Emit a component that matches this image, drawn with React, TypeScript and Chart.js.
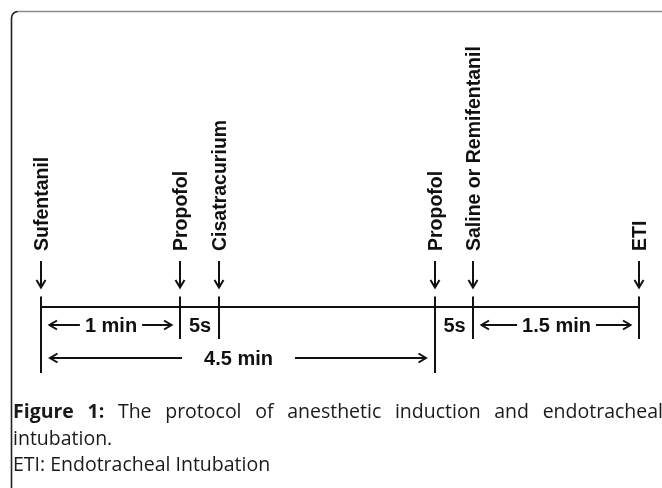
import React, { useEffect, useRef } from 'react';
import { Chart, registerables } from 'chart.js';

Chart.register(...registerables);

// Events along the (schematic, not-to-scale) induction timeline
const eventLabels = ['Sufentanil', 'Propofol', 'Cisatracurium', 'Propofol', 'Saline or Remifentanil', 'ETI'];
const eventPositions = [0, 139, 178, 394, 432, 598];
const eventMarker = ['long', 'short', 'short', 'long', 'short', 'short'];

// Intervals annotated below the timeline
const intervalLabels = ['1 min', '5s', '4.5 min', '5s', '1.5 min'];
const intervalStart = [0, 139, 0, 394, 432];
const intervalEnd = [139, 178, 394, 432, 598];
const intervalRow = [1, 1, 2, 1, 1];
const intervalArrows = [true, false, true, false, true];

// Caption
const captionBold = 'Figure 1:';
const captionLine1 = 'The protocol of anesthetic induction and endotracheal';
const captionLine2 = 'intubation.';
const captionLine3 = 'ETI: Endotracheal Intubation';

// vertical layout levels (units above the timeline)
const LV = {
  tickTop: 10.5,
  shortBottom: -32,
  longBottom: -66,
  arrowTop: 46,
  arrowBottom: 19.5,
  labelStart: 56,
  row1Line: -18,
  row1Base: -24.5,
  row2Line: -51,
  row2Base: -58,
  cap1: -111,
  cap2: -138,
  cap3: -164,
};

const INK = '#111111';
const LABEL_FONT = 'bold 19.5px "Liberation Sans", Arial, sans-serif';
const INTERVAL_FONT = 'bold 20px "Liberation Sans", Arial, sans-serif';

function arrow(ctx: CanvasRenderingContext2D, x1: number, y1: number, x2: number, y2: number) {
  const ang = Math.atan2(y2 - y1, x2 - x1);
  const L = 7.5;
  const W = 4.5;
  ctx.beginPath();
  ctx.moveTo(x1, y1);
  ctx.lineTo(x2, y2);
  ctx.stroke();
  const bx = x2 - L * Math.cos(ang);
  const by = y2 - L * Math.sin(ang);
  const nx = -Math.sin(ang) * W;
  const ny = Math.cos(ang) * W;
  ctx.beginPath();
  ctx.moveTo(bx + nx, by + ny);
  ctx.lineTo(x2, y2);
  ctx.lineTo(bx - nx, by - ny);
  ctx.stroke();
}

const diagramPlugin = {
  id: 'diagram',
  beforeDraw(chart: any) {
    const ctx: CanvasRenderingContext2D = chart.ctx;
    ctx.save();
    ctx.fillStyle = '#ffffff';
    ctx.fillRect(0, 0, chart.width, chart.height);
    // frame
    ctx.lineWidth = 1.6;
    ctx.strokeStyle = '#222222';
    ctx.beginPath();
    ctx.moveTo(11.5, chart.height + 5);
    ctx.lineTo(11.5, 18);
    ctx.arcTo(11.5, 11.5, 18, 11.5, 6.5);
    ctx.stroke();
    ctx.strokeStyle = '#8c8c8c';
    ctx.beginPath();
    ctx.moveTo(17.5, 11.5);
    ctx.lineTo(chart.width + 5, 11.5);
    ctx.stroke();
    ctx.restore();
  },
  afterDatasetsDraw(chart: any) {
    const ctx: CanvasRenderingContext2D = chart.ctx;
    const xs = chart.scales.x;
    const ys = chart.scales.y;
    const X = (v: number) => xs.getPixelForValue(v);
    const Y = (v: number) => ys.getPixelForValue(v);
    ctx.save();
    ctx.strokeStyle = INK;
    ctx.fillStyle = INK;
    ctx.lineWidth = 2;
    ctx.lineCap = 'butt';
    ctx.lineJoin = 'miter';

    // down arrows + rotated labels
    eventPositions.forEach((p, i) => {
      const x = Math.round(X(p));
      arrow(ctx, x, Y(LV.arrowTop), x, Y(LV.arrowBottom));
      ctx.save();
      ctx.translate(x + 6.5, Y(LV.labelStart));
      ctx.rotate(-Math.PI / 2);
      ctx.font = LABEL_FONT;
      ctx.textAlign = 'left';
      ctx.textBaseline = 'alphabetic';
      ctx.fillText(eventLabels[i], 0, 0);
      ctx.restore();
    });

    // interval labels
    ctx.font = INTERVAL_FONT;
    ctx.textAlign = 'center';
    ctx.textBaseline = 'alphabetic';
    intervalLabels.forEach((lab, i) => {
      const a = X(intervalStart[i]);
      const b = X(intervalEnd[i]);
      const c = (a + b) / 2 + 0.5;
      const row = intervalRow[i];
      const base = Y(row === 1 ? LV.row1Base : LV.row2Base);
      const lineY = Y(row === 1 ? LV.row1Line : LV.row2Line);
      ctx.fillText(lab, c, base);
      if (intervalArrows[i]) {
        const w = ctx.measureText(lab).width;
        const gap = row === 1 ? 5 : 22;
        const margin = row === 1 ? 8.5 : 9;
        arrow(ctx, c - w / 2 - gap, lineY, a + margin, lineY);
        arrow(ctx, c + w / 2 + gap, lineY, b - margin, lineY);
      }
    });

    // caption
    const capFont = '19.5px "Open Sans", sans-serif';
    const capBold = 'bold 19.5px "Open Sans", sans-serif';
    ctx.fillStyle = '#1a1a1a';
    ctx.textAlign = 'left';
    const left = 13;
    const right = 663;
    const words: { t: string; f: string }[] = [];
    captionBold.split(' ').forEach((t) => words.push({ t, f: capBold }));
    captionLine1.split(' ').forEach((t) => words.push({ t, f: capFont }));
    let total = 0;
    words.forEach((w) => {
      ctx.font = w.f;
      total += ctx.measureText(w.t).width;
    });
    const sp = (right - left - total) / (words.length - 1);
    let cx = left;
    const y1 = Y(LV.cap1);
    words.forEach((w) => {
      ctx.font = w.f;
      ctx.fillText(w.t, cx, y1);
      cx += ctx.measureText(w.t).width + sp;
    });
    ctx.font = capFont;
    ctx.fillText(captionLine2, left, Y(LV.cap2));
    ctx.fillText(captionLine3, left, Y(LV.cap3));
    ctx.restore();
  },
};

export default function App() {
  const ref = useRef<HTMLCanvasElement | null>(null);
  useEffect(() => {
    if (!ref.current) return;
    const lineStyle = {
      borderColor: INK,
      borderWidth: 2,
      pointRadius: 0,
      showLine: true,
      fill: false,
      tension: 0,
      borderCapStyle: 'butt' as const,
    };
    const datasets: any[] = [
      {
        ...lineStyle,
        data: [
          { x: eventPositions[0], y: 0 },
          { x: eventPositions[eventPositions.length - 1], y: 0 },
        ],
      },
      ...eventPositions.map((p, i) => ({
        ...lineStyle,
        data: [
          { x: p, y: LV.tickTop },
          { x: p, y: eventMarker[i] === 'long' ? LV.longBottom : LV.shortBottom },
        ],
      })),
    ];
    const chart = new Chart(ref.current, {
      type: 'scatter',
      data: { datasets },
      options: {
        responsive: false,
        animation: false,
        events: [],
        layout: { padding: 0 },
        plugins: { legend: { display: false }, tooltip: { enabled: false } },
        scales: {
          x: { type: 'linear', min: -41, max: 621, display: false },
          y: { type: 'linear', min: -181, max: 307, display: false },
        },
      },
      plugins: [diagramPlugin],
    });
    return () => chart.destroy();
  }, []);
  return (
    <div style={{ position: 'fixed', left: 0, top: 0, width: 662, height: 488, background: '#fff' }}>
      <canvas ref={ref} width={662} height={488} style={{ display: 'block' }} />
    </div>
  );
}
